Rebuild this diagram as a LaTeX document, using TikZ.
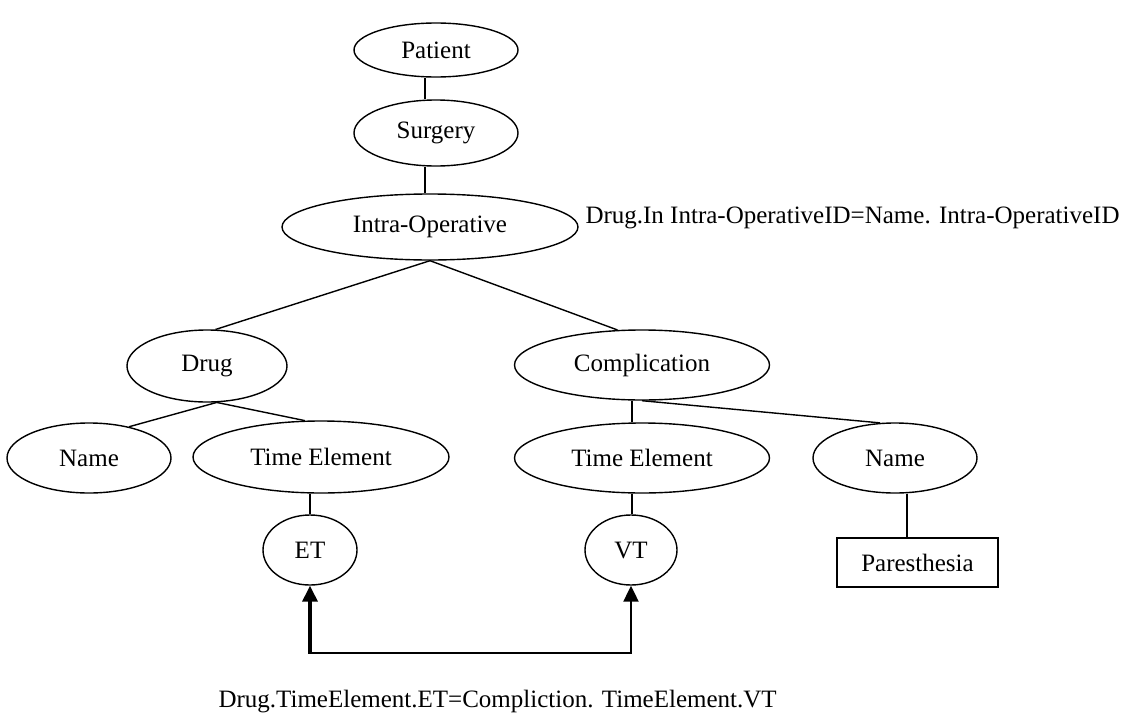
\documentclass[tikz,border=0pt]{standalone}
\usepackage{fontspec}
\setmainfont{Liberation Serif}
\usetikzlibrary{shapes.geometric,arrows.meta}
\begin{document}
\begin{tikzpicture}[x=1pt,y=-1pt,
  every node/.style={font=\fontsize{25}{30}\selectfont, text=black},
  ent/.style={draw, ellipse, line width=1.4pt, inner sep=0pt},
  valbox/.style={draw, rectangle, line width=1.4pt, inner sep=0pt,
                 minimum width=161pt, minimum height=49pt},
  link/.style={line width=1.4pt},
  refline/.style={line width=2.2pt},
  refarrow/.style={-{Triangle[length=16pt,width=15pt]}},
]
\useasboundingbox (0,0) rectangle (1130,715);

% entity ellipses
\node[ent, minimum width=164pt, minimum height=54pt] (pat)   at (436,50)  {Patient};
\node[ent, minimum width=164pt, minimum height=66pt] (surg)  at (436,133) {Surgery};
\node[ent, minimum width=296pt, minimum height=66pt] (intra) at (430,227) {Intra-Operative};
\node[ent, minimum width=160pt, minimum height=72pt] (drug)  at (207,366) {Drug};
\node[ent, minimum width=255pt, minimum height=70pt] (comp)  at (642,365) {Complication};
\node[ent, minimum width=164pt, minimum height=70pt] (namel) at (89,458)  {Name};
\node[ent, minimum width=256pt, minimum height=72pt] (tel)   at (321,457) {Time Element};
\node[ent, minimum width=255pt, minimum height=70pt] (ter)   at (642,458) {Time Element};
\node[ent, minimum width=164pt, minimum height=70pt] (namer) at (895,458) {Name};
\node[ent, minimum width=94pt,  minimum height=70pt] (et)    at (310,550) {ET};
\node[ent, minimum width=92pt,  minimum height=70pt] (vt)    at (631,550) {VT};
\node[valbox] (para) at (917.5,562.5) {Paresthesia};

% join conditions
\node[anchor=base west] (joinA) at (582,223)
  {Drug.In Intra-OperativeID=Name. Intra-OperativeID};
\node[anchor=base west] (joinB) at (215,707)
  {Drug.TimeElement.ET=Compliction. TimeElement.VT};

% tree edges
\draw[link] ([xshift=-11pt]pat.south) -- ([xshift=-11pt]surg.north);
\draw[link] ([xshift=-11pt]surg.south) -- ([xshift=-11pt]surg.south |- intra.north);
\draw[link] (intra.south) -- (drug.77);
\draw[link] (intra.south) -- (comp.125);
\draw[link] (drug.-75) -- (namel.38);
\draw[link] (drug.-75) -- (tel.114);
\draw[link] (et.north) -- (et.north |- tel.south);
\draw[link] ([xshift=-10pt]comp.south) -- ([xshift=-10pt]comp.south |- ter.north);
\draw[link] (comp.south) -- (namer.113);
\draw[link] ([xshift=-10pt]ter.south) -- ([xshift=-10pt]ter.south |- vt.north);
\draw[link] ([xshift=12pt]namer.south) -- ([xshift=12pt]namer.south |- para.north);

% ET/VT correspondence
\coordinate (bl) at (310,653);
\coordinate (br) at (631,653);
\draw[refarrow, line width=3.6pt] (bl) -- (et.south);
\draw[refarrow, refline, line join=miter] ([xshift=-1.8pt]bl) -- (br) -- (vt.south);
\end{tikzpicture}
\end{document}
